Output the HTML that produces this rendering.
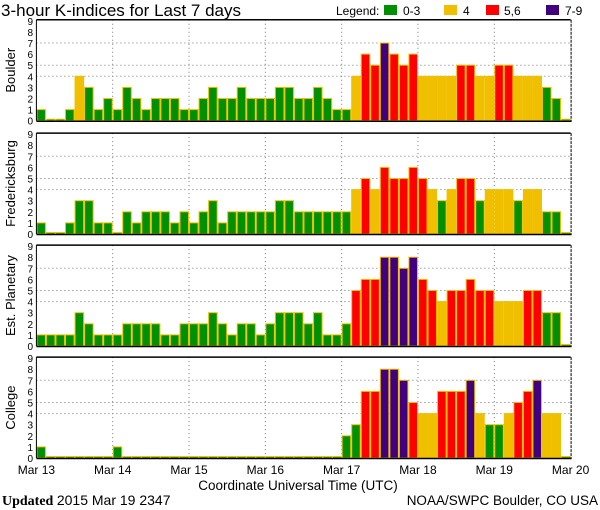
<!DOCTYPE html>
<html><head><meta charset="utf-8">
<style>
body{margin:0;background:#fff;}
svg{display:block;font-family:"Liberation Sans",sans-serif;}
</style></head>
<body>
<svg id="chart" width="600" height="510" viewBox="0 0 600 510" xmlns="http://www.w3.org/2000/svg">
<text x="1" y="16" font-size="17">3-hour K-indices for Last 7 days</text>
<g font-size="12">
<text x="336" y="15">Legend:</text>
<rect x="384" y="5" width="13" height="10" fill="#009000"/>
<text x="403" y="15">0-3</text>
<rect x="444" y="5" width="13" height="10" fill="#f0c000"/>
<text x="463" y="15">4</text>
<rect x="486" y="5" width="13" height="10" fill="#ff0000"/>
<text x="504" y="15">5,6</text>
<rect x="546" y="5" width="13" height="10" fill="#400080"/>
<text x="565" y="15">7-9</text>
</g>
<g id="panels"></g>
<g id="xlabels" font-size="12"></g>
<text x="298" y="490" font-size="13.5" text-anchor="middle">Coordinate Universal Time (UTC)</text>
<text x="2" y="505" font-size="14" font-family="Liberation Serif, serif"><tspan font-weight="bold">Updated</tspan> <tspan font-family="Liberation Sans, sans-serif">2015 Mar 19 2347</tspan></text>
<text x="598" y="505" font-size="13.5" text-anchor="end">NOAA/SWPC Boulder, CO USA</text>
</svg>
<script>
const dayLabels = ["Mar 13","Mar 14","Mar 15","Mar 16","Mar 17","Mar 18","Mar 19","Mar 20"];
const yTicks = [0,1,2,3,4,5,6,7,8,9];
const gridLevels = [4,5,7];
const stationNames = ["Boulder","Fredericksburg","Est. Planetary","College"];
const boulder = [1,0,0,1,4,3,1,2,1,3,2,1,2,2,2,1,1,2,3,2,2,3,2,2,2,3,3,2,2,3,2,1,1,4,6,5,7,6,5,6,4,4,4,4,5,5,4,4,5,5,4,4,4,3,2,0];
const fredericksburg = [1,0,0,1,3,3,1,1,0,2,1,2,2,2,1,2,1,2,3,1,2,2,2,2,2,3,3,2,2,2,2,2,2,4,5,4,6,5,5,6,5,4,3,4,5,5,3,4,4,4,3,4,4,2,2,0];
const planetary = [1,1,1,1,3,2,1,1,1,2,2,2,2,1,1,2,2,2,3,2,1,2,2,1,2,3,3,3,2,3,1,1,2,5,6,6,8,8,7,8,6,5,4,5,5,6,5,5,4,4,4,5,5,3,3,0];
const college = [1,0,0,0,0,0,0,0,1,0,0,0,0,0,0,0,0,0,0,0,0,0,0,0,0,0,0,0,0,0,0,0,2,3,6,6,8,8,7,5,4,4,6,6,6,7,4,3,3,4,5,6,7,4,4,0];
const series = [boulder, fredericksburg, planetary, college];

const NS="http://www.w3.org/2000/svg";
const X0=36.4, X1=570.6;
const panelBottoms=[120.7,234,346,458];
const unit=11.1;
const nBars=56;
const bw=(X1-X0)/nBars;
function xDay(d){return X0+d*(X1-X0)/7;}
function xBar(i){return X0+i*bw;}
function yVal(b,v){return b-v*unit;}
function color(v){return v<=3?"#009000":v==4?"#f0c000":v<=6?"#ff0000":"#400080";}
function mk(tag,attrs,parent){const e=document.createElementNS(NS,tag);for(const k in attrs)e.setAttribute(k,attrs[k]);parent.appendChild(e);return e;}

const root=document.getElementById("panels");
series.forEach((data,p)=>{
  const b=panelBottoms[p], top=yVal(b,9)-1;
  const g=mk("g",{},root);
  
  
  gridLevels.forEach(l=>{
    const ln=mk("line",{x1:X0,x2:X1,y1:yVal(b,l),y2:yVal(b,l),stroke:"#777","stroke-dasharray":"1,3"},g);
    
    
  });
  for(let d=1;d<7;d++){
    const ln=mk("line",{x1:xDay(d),x2:xDay(d),y1:top,y2:b,stroke:"#777","stroke-dasharray":"1,3"},g);
    
    
  }
  data.forEach((v,i)=>{
    const h=Math.max(v*unit,1.5);
    const r=mk("rect",{x:xBar(i)+0.5,y:b-h,width:bw-1,height:h,fill:color(v),stroke:"#f0c000","stroke-width":1},g);
    
    
  });
  const f1=mk("line",{x1:X0,x2:X1,y1:top,y2:top,stroke:"#000","stroke-width":1.5},g);
  
  
  const f2=mk("line",{x1:X0,x2:X1+1,y1:b+0.5,y2:b+0.5,stroke:"#000","stroke-width":1.5},g);
  
  
  const f3=mk("line",{x1:X0,x2:X0,y1:top,y2:b,stroke:"#000","stroke-width":1},g);
  
  
  const f4=mk("line",{x1:X1+0.5,x2:X1+0.5,y1:top,y2:b,stroke:"#000","stroke-width":1,"stroke-dasharray":"3,1"},g);
  
  
  yTicks.forEach(t=>{
    const tx=mk("text",{x:33,y:yVal(b,t)+4,"font-size":10,"text-anchor":"end"},g);
    tx.textContent=t;
    
    
  });
  const cy=(top+b)/2;
  const nm=mk("text",{x:0,y:0,"font-size":13,"text-anchor":"middle",transform:"translate(15,"+cy+") rotate(-90)"},g);
  nm.textContent=stationNames[p];
  
  
});
const xl=document.getElementById("xlabels");
dayLabels.forEach((l,d)=>{
  const t=mk("text",{x:xDay(d),y:474,"text-anchor":"middle"},xl);
  t.textContent=l;
  
  
});
</script>
</body></html>
